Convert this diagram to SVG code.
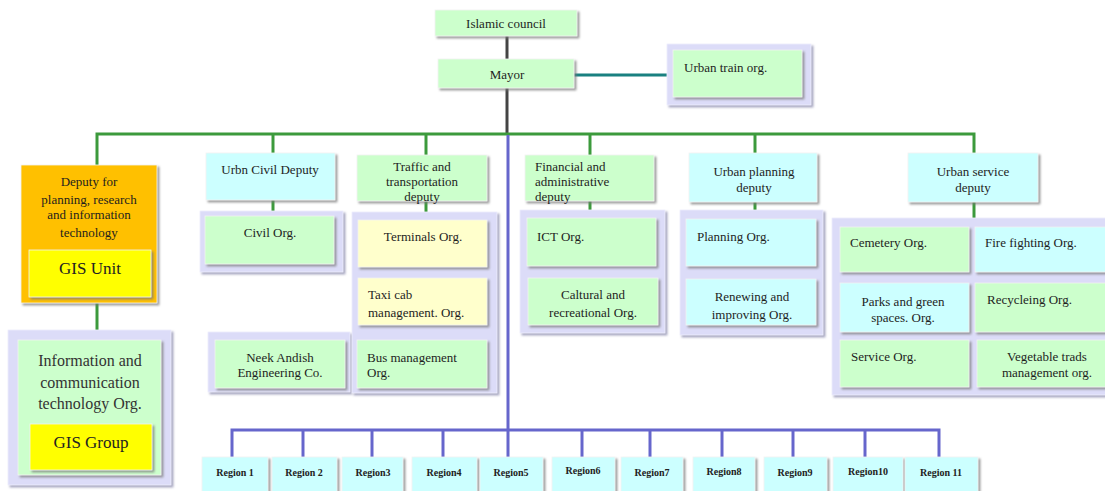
<svg xmlns="http://www.w3.org/2000/svg" width="1105" height="491" viewBox="0 0 1105 491">
<defs>
<filter id="sh" x="-10%" y="-10%" width="130%" height="140%">
<feDropShadow dx="2" dy="2" stdDeviation="0.8" flood-color="#7a7a7a" flood-opacity="0.75"/>
</filter>
<filter id="shl" x="-10%" y="-10%" width="130%" height="140%">
<feDropShadow dx="2" dy="2" stdDeviation="0.8" flood-color="#9a9ab8" flood-opacity="0.9"/>
</filter>
<style>
rect{filter:url(#sh);stroke:#f2f2f2;stroke-width:0.8}
.g{fill:#ccffcc}
.c{fill:#ccffff}
.y{fill:#ffffcc}
.o{fill:#ffc000}
.yy{fill:#ffff00}
.lav{fill:#dcdcf8;filter:url(#shl);stroke:#eeeefc}
text{font-family:"Liberation Serif","Times New Roman",serif;font-size:13px;fill:#1e1e1e}
.m{text-anchor:middle}
.big{font-size:16px;fill:#333}
.gis{font-size:17px;fill:#222}
.rg{font-size:10px;text-anchor:middle;font-weight:bold;fill:#222}
.cg path,.cg line{fill:none;stroke-width:3;stroke-linejoin:miter}
.gr{stroke:#3c9a3c}
.bl{stroke:#6666cc}
.dk{stroke:#444}
.tl{stroke:#1a8080}
</style>
</defs>
<rect width="1105" height="491" fill="#ffffff" style="filter:none;stroke:none"/>

<g id="connectors" class="cg">
<line class="dk" x1="507" y1="36" x2="507" y2="59"/>
<line class="dk" x1="507" y1="88" x2="507" y2="135"/>
<line class="tl" x1="574" y1="75" x2="667" y2="75"/>
<path class="gr" d="M97,165 V134 H974 V153"/>
<line class="gr" x1="273" y1="134" x2="273" y2="153"/>
<line class="gr" x1="426" y1="134" x2="426" y2="155"/>
<line class="gr" x1="590" y1="134" x2="590" y2="155"/>
<line class="gr" x1="755" y1="134" x2="755" y2="153"/>
<line class="gr" x1="273" y1="200" x2="273" y2="211"/>
<line class="gr" x1="426" y1="201" x2="426" y2="212"/>
<line class="gr" x1="590" y1="201" x2="590" y2="210"/>
<line class="gr" x1="755" y1="202" x2="755" y2="210"/>
<line class="gr" x1="974" y1="202" x2="974" y2="218"/>
<line class="gr" x1="97" y1="303" x2="97" y2="330"/>
<line class="bl" x1="508" y1="135" x2="508" y2="457"/>
<path class="bl" d="M232,457 V430 H939 V457"/>
<line class="bl" x1="303" y1="430" x2="303" y2="457"/>
<line class="bl" x1="372" y1="430" x2="372" y2="457"/>
<line class="bl" x1="443" y1="430" x2="443" y2="457"/>
<line class="bl" x1="582" y1="430" x2="582" y2="457"/>
<line class="bl" x1="650" y1="430" x2="650" y2="457"/>
<line class="bl" x1="722" y1="430" x2="722" y2="457"/>
<line class="bl" x1="793" y1="430" x2="793" y2="457"/>
<line class="bl" x1="865" y1="430" x2="865" y2="457"/>
</g>

<g id="council"><rect class="g" x="435" y="10" width="142" height="26"/><text class="m" x="506" y="28">Islamic council</text></g>
<g id="mayor"><rect class="g" x="438" y="59" width="136" height="29"/><text class="m" x="507" y="79">Mayor</text></g>
<g id="train"><rect class="lav" x="667" y="44" width="144" height="61"/><rect class="g" x="673" y="50" width="129" height="47"/><text x="684" y="72">Urban train org.</text></g>

<g id="deputy-planning"><rect class="o" x="21" y="165" width="136" height="138"/>
<text class="m" x="89" y="186">Deputy for</text><text class="m" x="89" y="204">planning, research</text><text class="m" x="89" y="219">and information</text><text class="m" x="89" y="237">technology</text>
<rect class="yy" x="29" y="250" width="122" height="47"/><text class="m gis" x="90" y="274">GIS Unit</text></g>

<g id="ict-org"><rect class="lav" x="8" y="330" width="163" height="155"/><rect class="g" x="18" y="340" width="143" height="135"/>
<text class="m big" x="90" y="366">Information and</text><text class="m big" x="90" y="388">communication</text><text class="m big" x="90" y="409">technology Org.</text>
<rect class="yy" x="30" y="424" width="122" height="46"/><text class="m gis" x="91" y="448">GIS Group</text></g>

<g id="civil-deputy"><rect class="c" x="206" y="153" width="129" height="47"/><text class="m" x="270" y="174">Urbn Civil Deputy</text></g>
<g id="civil-org"><rect class="lav" x="200" y="211" width="143" height="61"/><rect class="g" x="205" y="216" width="129" height="48"/><text class="m" x="270" y="237">Civil Org.</text></g>
<g id="neek"><rect class="lav" x="208" y="332" width="142" height="60"/><rect class="g" x="215" y="340" width="130" height="48"/><text class="m" x="280" y="362">Neek Andish</text><text class="m" x="280" y="377">Engineering Co.</text></g>

<g id="traffic-deputy"><rect class="g" x="357" y="155" width="130" height="46"/><text class="m" x="422" y="171">Traffic and</text><text class="m" x="422" y="186">transportation</text><text class="m" x="422" y="201">deputy</text></g>
<g id="traffic-orgs"><rect class="lav" x="352" y="212" width="145" height="181"/>
<rect class="y" x="358" y="220" width="129" height="47"/><text class="m" x="423" y="241">Terminals Org.</text>
<rect class="y" x="358" y="278" width="129" height="47"/><text x="368" y="299">Taxi cab</text><text x="368" y="317">management. Org.</text>
<rect class="g" x="357" y="340" width="130" height="48"/><text x="367" y="362">Bus management</text><text x="367" y="377">Org.</text></g>

<g id="financial-deputy"><rect class="g" x="525" y="155" width="129" height="46"/><text x="535" y="171">Financial and</text><text x="535" y="186">administrative</text><text x="535" y="201">deputy</text></g>
<g id="financial-orgs"><rect class="lav" x="520" y="210" width="145" height="123"/>
<rect class="g" x="527" y="218" width="129" height="48"/><text x="537" y="241">ICT Org.</text>
<rect class="g" x="528" y="278" width="130" height="47"/><text class="m" x="593" y="299">Caltural and</text><text class="m" x="593" y="317">recreational Org.</text></g>

<g id="planning-deputy"><rect class="c" x="689" y="153" width="128" height="49"/><text class="m" x="754" y="176">Urban planning</text><text class="m" x="754" y="192">deputy</text></g>
<g id="planning-orgs"><rect class="lav" x="680" y="210" width="143" height="125"/>
<rect class="c" x="686" y="219" width="130" height="47"/><text x="697" y="241">Planning Org.</text>
<rect class="c" x="686" y="279" width="130" height="46"/><text class="m" x="752" y="301">Renewing and</text><text class="m" x="752" y="319">improving Org.</text></g>

<g id="service-deputy"><rect class="c" x="908" y="153" width="130" height="49"/><text class="m" x="973" y="176">Urban service</text><text class="m" x="973" y="192">deputy</text></g>
<g id="service-orgs"><rect class="lav" x="832" y="218" width="285" height="177"/>
<rect class="g" x="840" y="227" width="129" height="45"/><text x="850" y="247">Cemetery Org.</text>
<rect class="c" x="975" y="227" width="140" height="45"/><text x="985" y="247">Fire fighting Org.</text>
<rect class="c" x="840" y="283" width="129" height="49"/><text class="m" x="903" y="306">Parks and green</text><text class="m" x="903" y="322">spaces. Org.</text>
<rect class="g" x="975" y="283" width="140" height="49"/><text x="987" y="304">Recycleing Org.</text>
<rect class="g" x="840" y="340" width="129" height="47"/><text x="851" y="361">Service Org.</text>
<rect class="g" x="977" y="340" width="138" height="47"/><text class="m" x="1047" y="361">Vegetable trads</text><text class="m" x="1047" y="377">management org.</text></g>

<g id="region1"><rect class="c" x="202" y="457" width="66" height="40"/><text class="rg" x="235" y="476">Region 1</text></g>
<g id="region2"><rect class="c" x="272" y="457" width="65" height="40"/><text class="rg" x="304" y="476">Region 2</text></g>
<g id="region3"><rect class="c" x="342" y="457" width="61" height="40"/><text class="rg" x="373" y="476">Region3</text></g>
<g id="region4"><rect class="c" x="412" y="457" width="65" height="40"/><text class="rg" x="444" y="476">Region4</text></g>
<g id="region5"><rect class="c" x="480" y="457" width="63" height="40"/><text class="rg" x="511" y="476">Region5</text></g>
<g id="region6"><rect class="c" x="552" y="457" width="63" height="40"/><text class="rg" x="583" y="474">Region6</text></g>
<g id="region7"><rect class="c" x="621" y="457" width="62" height="40"/><text class="rg" x="652" y="476">Region7</text></g>
<g id="region8"><rect class="c" x="693" y="457" width="62" height="40"/><text class="rg" x="724" y="475">Region8</text></g>
<g id="region9"><rect class="c" x="764" y="457" width="63" height="40"/><text class="rg" x="795" y="476">Region9</text></g>
<g id="region10"><rect class="c" x="833" y="457" width="70" height="40"/><text class="rg" x="868" y="475">Region10</text></g>
<g id="region11"><rect class="c" x="905" y="457" width="73" height="40"/><text class="rg" x="941" y="476">Region 11</text></g>
</svg>
